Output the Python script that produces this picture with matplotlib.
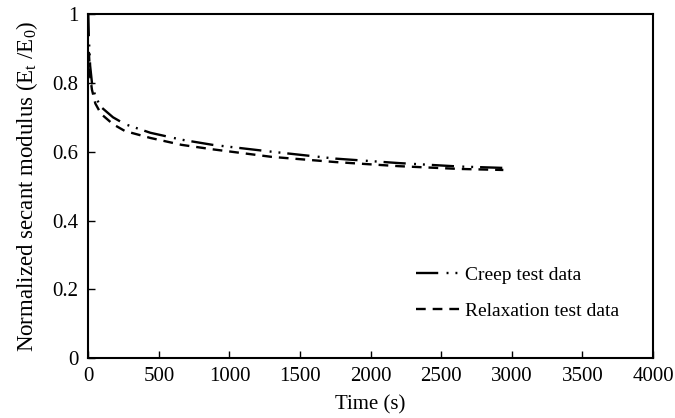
import numpy as np
import matplotlib
matplotlib.use('Agg')
import matplotlib.pyplot as plt

plt.rcParams['font.family'] = 'Liberation Serif'
plt.rcParams['mathtext.fontset'] = 'custom'
plt.rcParams['mathtext.rm'] = 'Liberation Serif'
plt.rcParams['mathtext.it'] = 'Liberation Serif:italic'
plt.rcParams['lines.scale_dashes'] = False

# creep test data
t_creep = [0, 4, 13, 26, 50, 90, 175, 260, 440, 660, 880, 1300, 1750, 2200, 2630, 2940]
e_creep = [1.0, 0.93, 0.85, 0.80, 0.76, 0.73, 0.70, 0.68, 0.655, 0.635, 0.62, 0.60, 0.58, 0.567, 0.557, 0.553]

# relaxation test data
t_relax = [4, 13, 26, 50, 90, 175, 260, 440, 660, 880, 1300, 1750, 2200, 2630, 2940]
e_relax = [0.89, 0.82, 0.78, 0.74, 0.71, 0.68, 0.66, 0.64, 0.62, 0.607, 0.585, 0.57, 0.558, 0.550, 0.547]

xticks = [0, 500, 1000, 1500, 2000, 2500, 3000, 3500, 4000]
yticks = [0, 0.2, 0.4, 0.6, 0.8, 1]
ylabels = ['0', '0.2', '0.4', '0.6', '0.8', '1']

fig = plt.figure(figsize=(6.75, 4.18), dpi=100)
ax = fig.add_axes([0.1308, 0.1428, 0.8366, 0.8237])

ax.plot(t_creep, e_creep, color='black', lw=1.7,
        dashes=(16, 6, 1.4, 5, 1.4, 5), label='Creep test data')
ax.plot(t_relax, e_relax, color='black', lw=1.7,
        dashes=(7, 5), label='Relaxation test data')

ax.set_xlim(0, 4000)
ax.set_ylim(0, 1)
ax.set_xticks(xticks)
ax.set_yticks(yticks)
ax.set_yticklabels(ylabels)
ax.tick_params(direction='in', length=5, width=1, labelsize=15)
ax.tick_params(axis='x', pad=6)
ax.tick_params(axis='y', pad=7)
for s in ax.spines.values():
    s.set_linewidth(1.5)

ax.set_xlabel('Time (s)', fontsize=15, labelpad=7)
ax.set_ylabel('Normalized secant modulus (E$_\\mathrm{t}$ /E$_\\mathrm{0}$)', fontsize=16.5, labelpad=9)

ax.legend(loc='center left', bbox_to_anchor=(0.580, 0.19), frameon=False,
          fontsize=14, handlelength=2.4, handletextpad=0.15, labelspacing=0.95,
          borderpad=0, borderaxespad=0)

fig.savefig('out.png', dpi=100)
